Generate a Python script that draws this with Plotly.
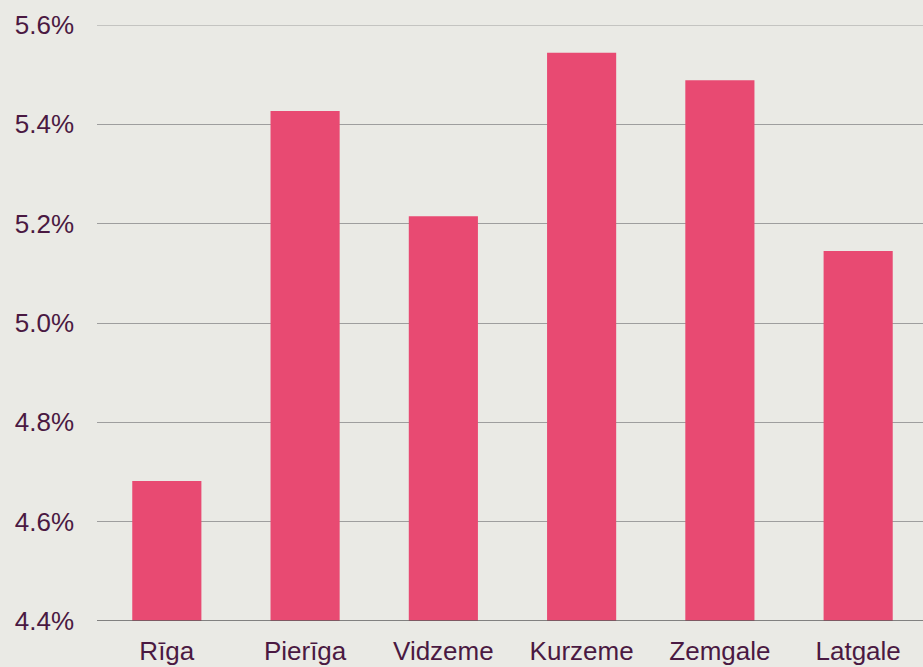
import plotly.graph_objects as go

regions = ["Rīga", "Pierīga", "Vidzeme", "Kurzeme", "Zemgale", "Latgale"]
values = [4.682, 5.427, 5.215, 5.544, 5.489, 5.145]
baseline = 4.4
y_ticks = [4.4, 4.6, 4.8, 5.0, 5.2, 5.4, 5.6]
y_tick_labels = ["4.4%", "4.6%", "4.8%", "5.0%", "5.2%", "5.4%", "5.6%"]

bg = "#EAEAE5"
bar_color = "#E84A72"
text_color = "#4A1942"
grid_color = "#9E9E9E"

fig = go.Figure(go.Bar(
    x=regions, y=[v - baseline for v in values], base=baseline,
    marker_color=bar_color, marker_line_width=0, width=0.5,
    hoverinfo="skip",
))

fig.update_layout(
    width=923, height=667,
    paper_bgcolor=bg, plot_bgcolor=bg,
    margin=dict(l=97, r=0, t=25, b=46),
    font=dict(family="Liberation Sans, Arial, sans-serif", size=26, color=text_color),
    showlegend=False,
)
fig.update_xaxes(
    range=[-0.505, 5.469], showgrid=False, ticks="", showline=False,
    ticklabelstandoff=12,
    tickfont=dict(size=26, color=text_color),
)
fig.update_yaxes(
    range=[4.4, 5.6], tickvals=y_ticks, ticktext=y_tick_labels,
    showgrid=True, gridcolor=grid_color, gridwidth=1,
    zeroline=False, showline=False, ticks="",
    ticklabelstandoff=22,
    tickfont=dict(size=26, color=text_color),
)
fig.add_shape(type="line", xref="paper", yref="y", x0=0, x1=1, y0=y_ticks[-1], y1=y_ticks[-1],
              line=dict(color=grid_color, width=1), layer="below")
fig.add_shape(type="line", xref="paper", yref="y", x0=0, x1=1, y0=baseline, y1=baseline,
              line=dict(color="#5E5E5E", width=1.5))
fig.write_html("out.html", config={"displayModeBar": False},
               post_script="document.body.style.margin='0';")
